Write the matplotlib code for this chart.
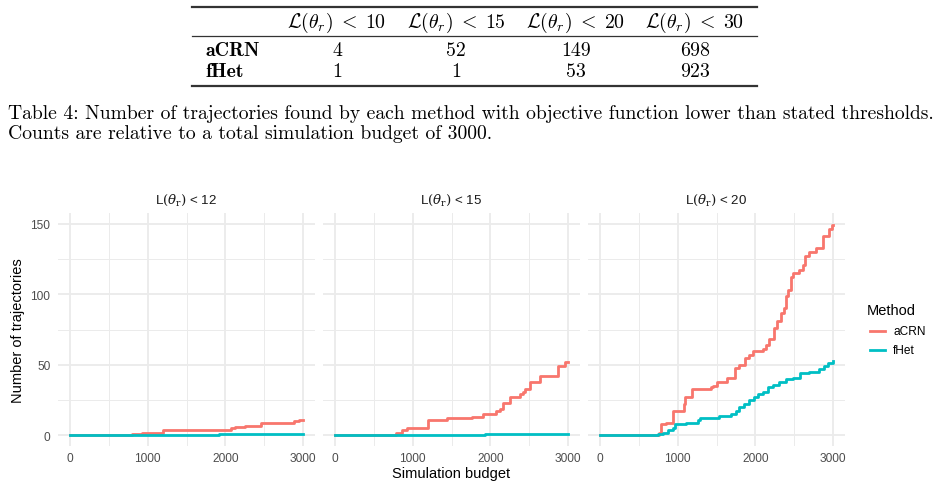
import matplotlib.pyplot as plt
from matplotlib.lines import Line2D
import matplotlib.ticker as ticker

W, H = 946, 489

# table values
thresholds = [10, 15, 20, 30]
methods = ["aCRN", "fHet"]
table_counts = {"aCRN": [4, 52, 149, 698], "fHet": [1, 1, 53, 923]}

caption = ["Table 4: Number of trajectories found by each method with objective function lower than stated thresholds.",
           "Counts are relative to a total simulation budget of 3000."]

# facet panels: cumulative counts (budget at which count is reached)
panel_thresholds = [12, 15, 20]
budget_max = 3000

acrn_x = [
    [0, 795, 930, 1200, 2070, 2127, 2255, 2455, 2874, 2950, 3000],
    [0, 791, 863, 927, 1197, 1440, 1761, 1910, 2073, 2124, 2167, 2252, 2381, 2415, 2445, 2509, 2637, 2872, 2958, 3000],
    [0, 760, 790, 850, 944, 1077, 1094, 1184, 1428, 1450, 1501, 1630, 1741, 1793, 1870, 1913, 1964, 2093, 2136,
     2170, 2243, 2277, 2328, 2363, 2393, 2414, 2457, 2487, 2564, 2607, 2641, 2693, 2778, 2864, 2941, 2984, 3000],
]
acrn_y = [
    [0, 1, 2, 4, 5, 6, 7, 9, 10, 11, 11],
    [0, 2, 4, 5, 11, 12, 13, 15, 17, 19, 23, 27, 29, 31, 33, 38, 42, 49, 52, 52],
    [0, 2, 8, 9, 17, 22, 27, 33, 34, 35, 38, 41, 48, 50, 55, 57, 60, 61, 64,
     68, 76, 81, 87, 90, 99, 103, 112, 115, 117, 121, 127, 130, 133, 141, 146, 149, 149],
]
fhet_x = [
    [0, 1913, 3000],
    [0, 1932, 3000],
    [0, 743, 807, 871, 936, 970, 1107, 1257, 1287, 1536, 1686, 1750, 1793, 1857, 1921, 1985, 2028, 2093,
     2157, 2221, 2307, 2393, 2478, 2572, 2693, 2821, 2886, 2928, 2993, 3000],
]
fhet_y = [
    [0, 1, 1],
    [0, 1, 1],
    [0, 1, 2, 4, 5, 8, 9, 11, 12, 14, 15, 17, 20, 22, 25, 27, 29, 31,
     34, 36, 38, 40, 41, 44, 45, 47, 49, 51, 53, 53],
]

colors = {"aCRN": "#F8766D", "fHet": "#00BFC4"}


def fx(x):
    return x / W


def fy(y):
    return 1 - y / H


fig = plt.figure(figsize=(W / 100, H / 100), dpi=100)
fig.patch.set_facecolor("white")

# ---- table ----
for y, lw in [(7.5, 1.6), (37, 0.9), (86.5, 1.6)]:
    fig.add_artist(Line2D([fx(192), fx(757)], [fy(y), fy(y)], color="#333333", lw=lw))

col_x = [337, 456, 576, 695]
for cx, t in zip(col_x, thresholds):
    fig.text(fx(cx), fy(28), r"$\mathcal{L}(\theta_r)\;<\;%d$" % t, ha="center", va="baseline",
             fontsize=14.3, math_fontfamily="cm")

for ry, m in zip([56, 77], methods):
    fig.text(fx(205), fy(ry), m, ha="left", va="baseline", fontsize=14.3, family="cmb10")
    for cx, v in zip(col_x, table_counts[m]):
        fig.text(fx(cx), fy(ry), str(v), ha="center", va="baseline", fontsize=14.3, family="cmr10")

for ly, line in zip([119, 139], caption):
    fig.text(fx(8), fy(ly), line, ha="left", va="baseline", fontsize=14.1, family="cmr10")

# ---- facets ----
sans = "Liberation Sans"
left_px = [58, 323, 588]
pw, top, bottom = 257, 214, 447
for i, lx in enumerate(left_px):
    ax = fig.add_axes([fx(lx), fy(bottom), pw / W, (bottom - top) / H])
    ax.set_facecolor("white")
    for s in ax.spines.values():
        s.set_visible(False)
    ax.set_xlim(-150, 3150)
    ax.set_ylim(-7.5, 157.5)
    ax.xaxis.set_major_locator(ticker.FixedLocator([0, 1000, 2000, 3000]))
    ax.xaxis.set_minor_locator(ticker.FixedLocator([500, 1500, 2500]))
    ax.yaxis.set_major_locator(ticker.FixedLocator([0, 50, 100, 150]))
    ax.yaxis.set_minor_locator(ticker.FixedLocator([25, 75, 125]))
    ax.grid(which="major", color="#EBEBEB", lw=1.35)
    ax.grid(which="minor", color="#EBEBEB", lw=0.7)
    ax.set_axisbelow(True)
    ax.tick_params(which="both", length=0)
    ax.tick_params(axis="x", pad=4.5, labelsize=8.6, labelcolor="#4D4D4D")
    ax.tick_params(axis="y", pad=5.5, labelsize=8.6, labelcolor="#4D4D4D")
    for lab in ax.get_xticklabels() + ax.get_yticklabels():
        lab.set_family(sans)
    if i > 0:
        ax.set_yticklabels([])

    ax.plot(acrn_x[i], acrn_y[i], drawstyle="steps-post", color=colors["aCRN"], lw=2.0)
    ax.plot(fhet_x[i], fhet_y[i], drawstyle="steps-post", color=colors["fHet"], lw=2.0)

    fig.text(fx(lx + pw / 2), fy(200), r"L$\left(\theta_{\mathrm{r}}\right)$ < %d" % panel_thresholds[i],
             ha="center", va="center", fontsize=9.6, family=sans, color="#1A1A1A",
             math_fontfamily="dejavuserif")

fig.text(fx(18), fy((top + bottom) / 2), "Number of trajectories", rotation=90,
         ha="center", va="center", fontsize=10.5, family=sans)
fig.text(fx(451.5), fy(474), "Simulation budget", ha="center", va="center", fontsize=10.5, family=sans)

# ---- legend ----
fig.text(fx(867), fy(311), "Method", ha="left", va="center", fontsize=10.5, family=sans)
for ly, m in zip([332, 351], methods):
    fig.add_artist(Line2D([fx(870), fx(885)], [fy(ly), fy(ly)], color=colors[m], lw=2.0))
    fig.text(fx(893), fy(ly), m, ha="left", va="center", fontsize=8.6, family=sans)

fig.savefig("out.png", dpi=100)
